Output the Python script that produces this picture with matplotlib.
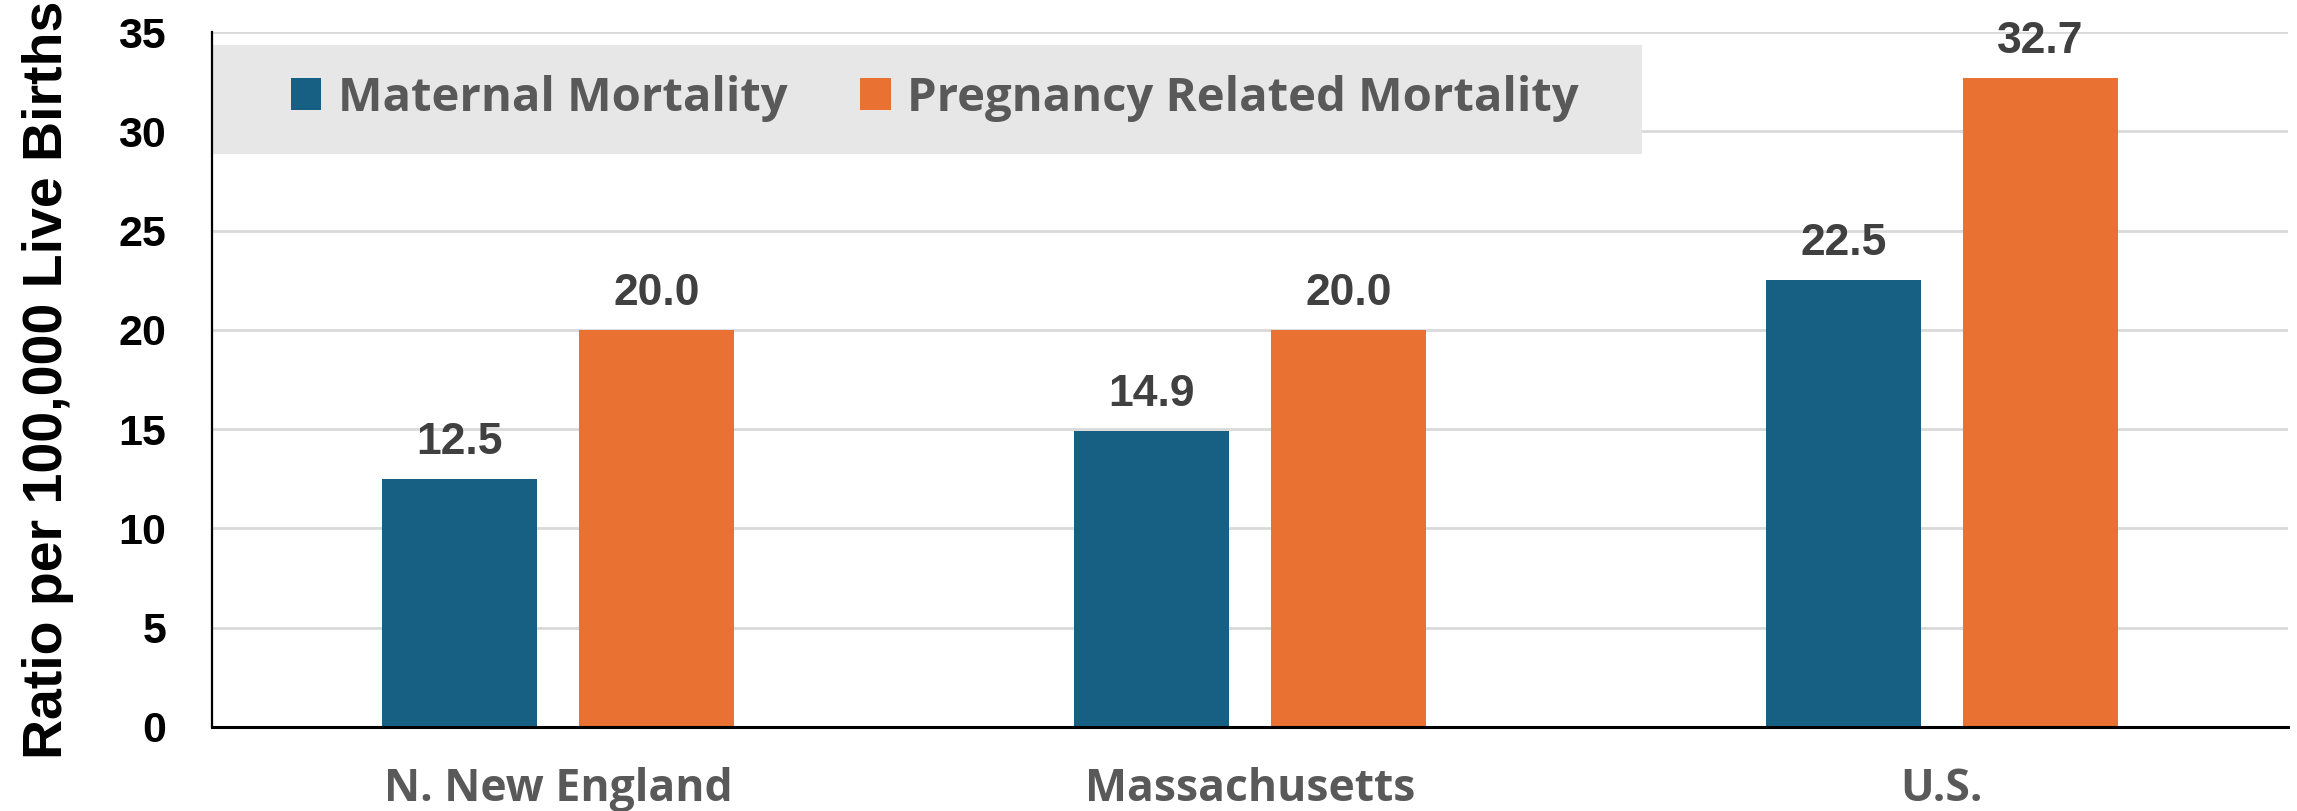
import numpy as np
import matplotlib
matplotlib.use("Agg")
import matplotlib.pyplot as plt
from matplotlib.patches import Rectangle

categories = ["N. New England", "Massachusetts", "U.S."]
maternal = [12.5, 14.9, 22.5]
pregnancy = [20.0, 20.0, 32.7]
series_names = ["Maternal Mortality", "Pregnancy Related Mortality"]
yticks = [0, 5, 10, 15, 20, 25, 30, 35]

blue = "#176084"
orange = "#E97132"
grey_text = "#595959"

fig = plt.figure(figsize=(22.97, 8.11), dpi=100)
ax = fig.add_axes([212 / 2297, 84 / 811, 2076 / 2297, 695 / 811])

x = np.arange(len(categories))
w = 0.224
b1 = ax.bar(x - 0.142, maternal, w, color=blue, label=series_names[0], zorder=2)
b2 = ax.bar(x + 0.142, pregnancy, w, color=orange, label=series_names[1], zorder=2)

for bars in (b1, b2):
    ax.bar_label(bars, fmt="%.1f", padding=11.5, fontsize=32, fontweight="bold",
                 color="#404040", family="Liberation Sans")

ax.set_xlim(-0.5, 2.5)
ax.set_ylim(0, 35)
ax.set_yticks(yticks)
ax.set_xticks(x)
ax.set_xticklabels(categories, fontsize=32, color=grey_text,
                   family="Open Sans", fontweight="bold")
for t in ax.get_yticklabels():
    t.set_fontsize(31)
    t.set_fontweight("bold")
    t.set_family("Liberation Sans")
ax.tick_params(axis="both", length=0)
ax.tick_params(axis="y", pad=33)
ax.tick_params(axis="x", pad=29)

ax.set_axisbelow(True)
ax.grid(axis="y", color="#d9d9d9", linewidth=2)
ax.spines["top"].set_visible(False)
ax.spines["right"].set_visible(False)
ax.spines["left"].set_linewidth(1.6)
ax.spines["bottom"].set_linewidth(2.2)

ax.set_ylabel("Ratio per 100,000 Live Births", fontsize=40, fontweight="bold",
              family="Liberation Sans", labelpad=32)

# grey band behind the legend
ax.add_patch(Rectangle((0, 0.8245), 0.6888, 0.1568, transform=ax.transAxes,
                       facecolor="#e7e7e7", edgecolor="none", zorder=1))

leg = ax.legend(loc="center left", bbox_to_anchor=(0.038, 0.905), ncol=2,
                frameon=False, borderpad=0, borderaxespad=0,
                handlelength=0.64, handleheight=0.64, handletextpad=0.35,
                columnspacing=1.55,
                prop={"family": "Open Sans", "weight": "bold", "size": 34})
for t in leg.get_texts():
    t.set_color(grey_text)
leg.set_zorder(5)

fig.savefig("out.png", dpi=100)
